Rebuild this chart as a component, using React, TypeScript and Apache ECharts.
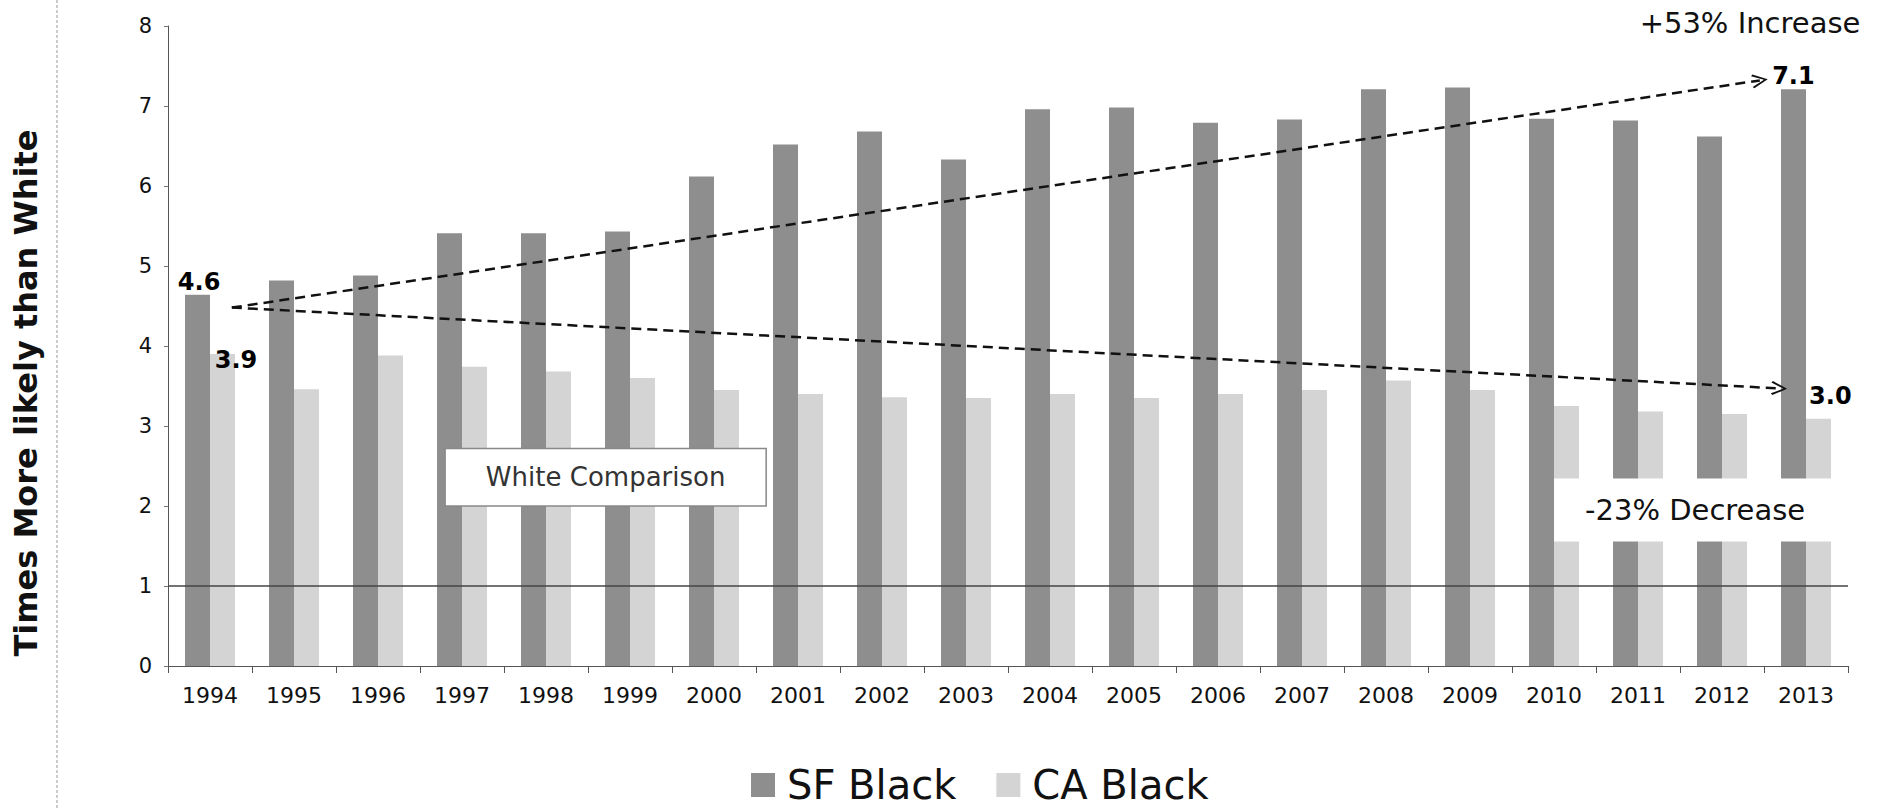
import React, { useEffect, useRef } from "react";
import * as echarts from "echarts";

const years = ["1994","1995","1996","1997","1998","1999","2000","2001","2002","2003","2004","2005","2006","2007","2008","2009","2010","2011","2012","2013"];
const sfBlack = [4.64, 4.82, 4.88, 5.41, 5.41, 5.43, 6.12, 6.52, 6.68, 6.33, 6.96, 6.98, 6.79, 6.83, 7.21, 7.23, 6.84, 6.82, 6.62, 7.21];
const caBlack = [3.9, 3.46, 3.88, 3.74, 3.68, 3.6, 3.45, 3.4, 3.36, 3.35, 3.4, 3.35, 3.4, 3.45, 3.57, 3.45, 3.25, 3.18, 3.15, 3.09];
const whiteBaseline = 1;
const yTicks = [0, 8, 1];

// trend arrows in (category index, value) space
const increaseLine = [[0.26, 4.48], [18.45, 7.32]];
const decreaseLine = [[0.26, 4.48], [18.68, 3.47]];

// value labels
const valueLabels = [
  { text: "4.6", at: [-0.13, 4.8] },
  { text: "3.9", at: [0.31, 3.82] },
  { text: "7.1", at: [18.85, 7.38] },
  { text: "3.0", at: [19.29, 3.37] },
];
const increaseNote = "+53% Increase";
const decreaseNote = { text: "-23% Decrease", at: [17.68, 1.95] };
const whiteNote = { text: "White Comparison", at: [4.71, 2.36] };
const yTitle = "Times More likely than White";

const FONT = "DejaVu Sans";
const CHEVRON = "path://M0,10 L6,0 L12,10 L10.6,11 L6,2.6 L1.4,11 Z";

// hidden value axis runs 1-based so 0 is outside its range
const pos = (p: number[]) => [p[0] + 1, p[1]];

export default function App() {
  const ref = useRef<HTMLDivElement>(null);
  useEffect(() => {
    if (!ref.current) return;
    const chart = echarts.init(ref.current, undefined, { renderer: "svg" });
    const dashStyle = { type: [10, 6] as any, color: "#111", width: 2.5 };
    chart.setOption({
      animation: false,
      textStyle: { fontFamily: FONT },
      grid: { left: 168, right: 37, top: 26, bottom: 143, containLabel: false },
      legend: {
        data: ["SF Black", "CA Black"],
        left: 751,
        top: 765,
        padding: 0,
        itemWidth: 24,
        itemHeight: 24,
        itemGap: 40,
        icon: "rect",
        textStyle: { fontSize: 40, lineHeight: 40, color: "#111", fontFamily: FONT, padding: [0, 0, 0, 7] },
      },
      xAxis: [
        {
          type: "category",
          data: years,
          axisLine: { lineStyle: { color: "#555", width: 1 } },
          axisTick: { show: true, length: 7, lineStyle: { color: "#555" } },
          axisLabel: { fontSize: 22, color: "#111", margin: 18, fontFamily: FONT },
        },
        { type: "value", min: 0.5, max: 20.5, show: false },
      ],
      yAxis: {
        type: "value",
        min: yTicks[0],
        max: yTicks[1],
        interval: yTicks[2],
        axisLine: { show: true, onZero: false, lineStyle: { color: "#555", width: 1 } },
        axisTick: { show: true, length: 4, lineStyle: { color: "#777" } },
        splitLine: { show: false },
        axisLabel: { fontSize: 21, color: "#111", margin: 16, fontFamily: FONT },
      },
      series: [
        {
          name: "SF Black",
          type: "bar",
          data: sfBlack,
          barWidth: 25,
          barGap: "0%",
          itemStyle: { color: "#8e8e8e" },
          markLine: {
            silent: true,
            symbol: "none",
            label: { show: false },
            lineStyle: { type: "solid", color: "#444", width: 1.5 },
            data: [{ yAxis: whiteBaseline }],
          },
        },
        {
          name: "CA Black",
          type: "bar",
          data: caBlack,
          barWidth: 25,
          itemStyle: { color: "#d4d4d4" },
        },
        {
          name: "trend",
          type: "line",
          xAxisIndex: 1,
          data: [],
          symbol: "none",
          z: 10,
          markLine: {
            silent: true,
            symbol: ["none", CHEVRON],
            symbolSize: [14, 16],
            label: { show: false },
            lineStyle: dashStyle,
            data: [
              [{ coord: pos(increaseLine[0]) }, { coord: pos(increaseLine[1]) }],
              [{ coord: pos(decreaseLine[0]) }, { coord: pos(decreaseLine[1]) }],
            ],
          },
          markPoint: {
            silent: true,
            symbol: "circle",
            symbolSize: 0,
            data: [
              ...valueLabels.map((v) => ({
                name: v.text,
                coord: pos(v.at),
                label: {
                  show: true,
                  position: "inside",
                  formatter: v.text,
                  fontSize: 24,
                  fontWeight: "bold",
                  color: "#000",
                  fontFamily: FONT,
                },
              })),
              {
                name: decreaseNote.text,
                coord: pos(decreaseNote.at),
                label: {
                  show: true,
                  position: "inside",
                  formatter: decreaseNote.text,
                  fontSize: 29,
                  color: "#111",
                  fontFamily: FONT,
                  backgroundColor: "#fff",
                  padding: [17, 31],
                },
              },
              {
                name: whiteNote.text,
                coord: pos(whiteNote.at),
                label: {
                  show: true,
                  position: "inside",
                  formatter: whiteNote.text,
                  fontSize: 26,
                  color: "#333",
                  fontFamily: FONT,
                  backgroundColor: "#fff",
                  borderColor: "#888",
                  borderWidth: 1.5,
                  padding: [15, 40],
                },
              },
            ],
          },
        },
      ],
      graphic: [
        {
          type: "line",
          silent: true,
          shape: { x1: 57, y1: 0, x2: 57, y2: 809 },
          style: { stroke: "#999", lineWidth: 1, lineDash: [3, 2] },
        },
        {
          type: "text",
          silent: true,
          x: 1750,
          y: 23,
          style: {
            text: increaseNote,
            font: `29px '${FONT}'`,
            fill: "#111",
            align: "center",
            verticalAlign: "middle",
          },
        },
        {
          type: "text",
          silent: true,
          x: 26,
          y: 393,
          rotation: Math.PI / 2,
          style: {
            text: yTitle,
            font: `bold 32px '${FONT}'`,
            fill: "#111",
            align: "center",
            verticalAlign: "middle",
          },
        },
      ],
    });
    return () => chart.dispose();
  }, []);
  return (
    <div
      ref={ref}
      style={{ position: "fixed", left: 0, top: 0, width: 1885, height: 809, background: "#fff" }}
    />
  );
}
